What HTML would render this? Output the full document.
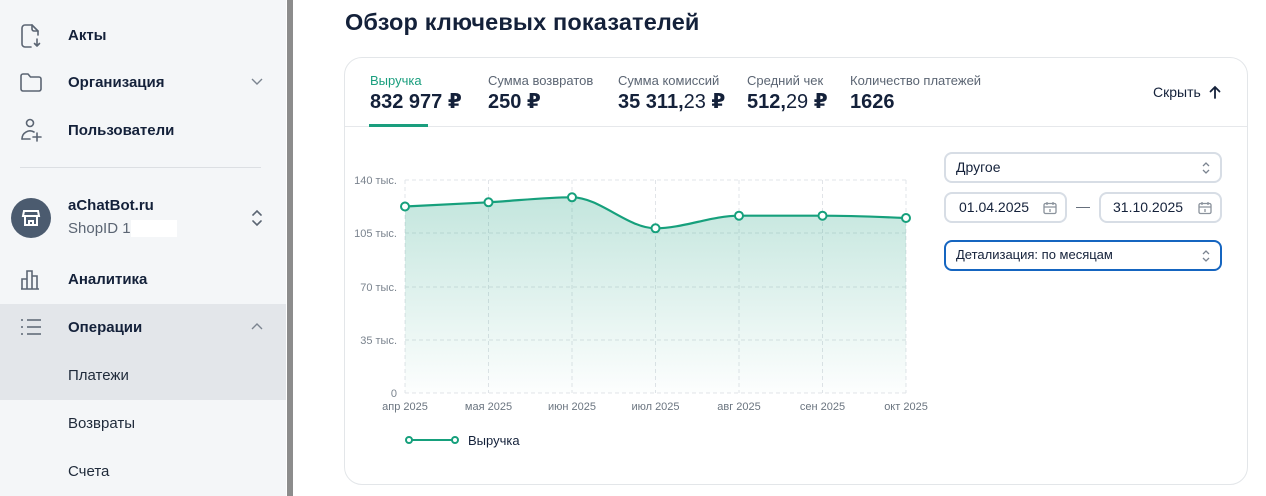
<!DOCTYPE html>
<html><head><meta charset="utf-8">
<style>
*{margin:0;padding:0;box-sizing:border-box}
html,body{width:1266px;height:496px;overflow:hidden;background:#fff;font-family:"Liberation Sans","DejaVu Sans",sans-serif;color:#14213a}
.abs{position:absolute;white-space:nowrap}
#side{position:absolute;left:0;top:0;width:286px;height:496px;background:#f4f6f8}
#hl{position:absolute;left:0;top:304px;width:286px;height:96px;background:#e3e6ea}
#sb{position:absolute;left:287px;top:0;width:6px;height:496px;background:#8c8c8c}
.mi{position:absolute;left:68px;font-size:15px;font-weight:bold;color:#14213a;line-height:18px}
.si{position:absolute;left:68px;font-size:15px;color:#1f2a3a;line-height:18px}
.ic{position:absolute}
#card{position:absolute;left:344px;top:57px;width:904px;height:428px;border:1px solid #e3e6e9;border-radius:18px;background:#fff}
.tl{position:absolute;font-size:13px;color:#5b6573;line-height:16px;white-space:nowrap}
.tv{position:absolute;font-size:20px;font-weight:bold;color:#14213a;line-height:22px;white-space:nowrap}
.tv .lt{font-weight:normal}
.box{position:absolute;border:2px solid #d7dde5;border-radius:8px;background:#fff;font-size:14px;color:#14213a;line-height:26px;padding-left:10px}
</style></head><body>
<div id="side"></div>
<div id="hl"></div>
<div id="sb"></div>

<!-- sidebar icons -->
<svg class="ic" style="left:18px;top:22px" width="26" height="28" viewBox="0 0 26 28" fill="none" stroke="#5b6573" stroke-width="1.6" stroke-linecap="round" stroke-linejoin="round">
<path d="M14 3H7a3 3 0 0 0-3 3v16a3 3 0 0 0 3 3h6"/><path d="M14 3l6 6v4"/><path d="M14 3v4a2 2 0 0 0 2 2h4"/><path d="M19 17v7M16.5 21.5L19 24l2.5-2.5"/>
</svg>
<svg class="ic" style="left:18px;top:70px" width="26" height="24" viewBox="0 0 26 24" fill="none" stroke="#5b6573" stroke-width="1.6" stroke-linejoin="round">
<path d="M3 6a2 2 0 0 1 2-2h5l2.5 3H21a2 2 0 0 1 2 2v10a2 2 0 0 1-2 2H5a2 2 0 0 1-2-2z"/>
</svg>
<svg class="ic" style="left:18px;top:116px" width="26" height="28" viewBox="0 0 26 28" fill="none" stroke="#5b6573" stroke-width="1.6" stroke-linecap="round">
<circle cx="12" cy="7" r="3.5"/><path d="M4 23a8 8 0 0 1 12-7"/><path d="M4 23h8"/><path d="M19 17v8M15 21h8"/>
</svg>
<div class="abs" style="left:20px;top:167px;width:241px;height:1px;background:#dcdfe3"></div>
<svg class="ic" style="left:11px;top:198px" width="40" height="40" viewBox="0 0 40 40">
<circle cx="20" cy="20" r="20" fill="#4b5b6f"/>
<g fill="none" stroke="#fff" stroke-width="2"><path d="M13 13h14l1 5H12z"/><path d="M12 18h16"/><path d="M14 18v9h12v-9"/><path d="M18 27v-4h4v4"/></g>
</svg>
<svg class="ic" style="left:249px;top:208px" width="16" height="20" viewBox="0 0 16 20" fill="none" stroke="#5b6573" stroke-width="1.6" stroke-linecap="round"><path d="M4 7l4-4 4 4M4 13l4 4 4-4"/></svg>
<svg class="ic" style="left:20px;top:268px" width="24" height="22" viewBox="0 0 24 22" fill="none" stroke="#5b6573" stroke-width="1.6"><path d="M2 21V11h5v10M7 21V3h5v18M12 21V8h5v13M1 21h18"/></svg>
<svg class="ic" style="left:20px;top:318px" width="22" height="18" viewBox="0 0 22 18" fill="none" stroke="#5b6573" stroke-width="1.6"><path d="M1 2h2M7 2h14M1 9h2M7 9h14M1 16h2M7 16h14"/></svg>
<svg class="ic" style="left:249px;top:76px" width="16" height="12" viewBox="0 0 16 12" fill="none" stroke="#7b8490" stroke-width="1.4"><path d="M3 3l5 5 5-5"/></svg>
<svg class="ic" style="left:249px;top:320px" width="16" height="12" viewBox="0 0 16 12" fill="none" stroke="#7b8490" stroke-width="1.4"><path d="M3 9l5-5 5 5"/></svg>

<div class="mi" style="top:27px">Акты</div>
<div class="mi" style="top:74px">Организация</div>
<div class="mi" style="top:122px">Пользователи</div>
<div class="mi" style="top:197px">aChatBot.ru</div>
<div class="si" style="top:220px;color:#5b6573">ShopID 1(</div>
<div class="abs" style="left:131px;top:220px;width:46px;height:17px;background:#fff"></div>
<div class="mi" style="top:271px">Аналитика</div>
<div class="mi" style="top:319px">Операции</div>
<div class="si" style="top:367px">Платежи</div>
<div class="si" style="top:415px">Возвраты</div>
<div class="si" style="top:463px">Счета</div>

<!-- main -->
<div class="abs" style="left:345px;top:7px;font-size:23.5px;letter-spacing:0.15px;font-weight:bold;color:#14213a;line-height:30px">Обзор ключевых показателей</div>
<div id="card"></div>
<div class="tl" style="left:370px;top:73px;color:#1a9e7e">Выручка</div>
<div class="tv" style="left:370px;top:91px">832 977 ₽</div>
<div class="tl" style="left:488px;top:73px">Сумма возвратов</div>
<div class="tv" style="left:488px;top:91px">250 ₽</div>
<div class="tl" style="left:618px;top:73px">Сумма комиссий</div>
<div class="tv" style="left:618px;top:91px">35 311,<span class="lt">23</span> ₽</div>
<div class="tl" style="left:747px;top:73px">Средний чек</div>
<div class="tv" style="left:747px;top:91px">512,<span class="lt">29</span> ₽</div>
<div class="tl" style="left:850px;top:73px">Количество платежей</div>
<div class="tv" style="left:850px;top:91px">1626</div>
<div class="abs" style="left:1153px;top:84px;font-size:14px;color:#14213a;line-height:17px">Скрыть</div>
<svg class="ic" style="left:1207px;top:84px" width="16" height="16" viewBox="0 0 16 16" fill="none" stroke="#14213a" stroke-width="1.8" stroke-linecap="round"><path d="M8 14V3M3.5 7.5L8 3l4.5 4.5"/></svg>
<div class="abs" style="left:345px;top:126px;width:902px;height:1px;background:#e6e8eb"></div>
<div class="abs" style="left:369px;top:124px;width:59px;height:3px;background:#1a9e7e"></div>

<!-- controls -->
<div class="box" style="left:944px;top:152px;width:278px;height:31px">Другое</div>
<div class="box" style="left:944px;top:192px;width:123px;height:31px;padding-left:13px">01.04.2025</div>
<div class="abs" style="left:1076px;top:198px;font-size:14px;color:#5b6573">—</div>
<div class="box" style="left:1099px;top:192px;width:123px;height:31px;padding-left:12px">31.10.2025</div>
<div class="box" style="left:944px;top:240px;width:278px;height:31px;border-color:#1565c0;font-size:13px">Детализация: по месяцам</div>
<svg class="ic" style="left:1200px;top:160px" width="12" height="16" viewBox="0 0 12 16" fill="none" stroke="#7b8490" stroke-width="1.3"><path d="M3 6l3-3 3 3M3 10l3 3 3-3"/></svg>
<svg class="ic" style="left:1200px;top:248px" width="12" height="16" viewBox="0 0 12 16" fill="none" stroke="#7b8490" stroke-width="1.3"><path d="M3 6l3-3 3 3M3 10l3 3 3-3"/></svg>
<svg class="ic" style="left:1042px;top:200px" width="16" height="16" viewBox="0 0 16 16" fill="none" stroke="#8a929c" stroke-width="1.3"><rect x="2" y="3.5" width="12" height="10" rx="1.5"/><path d="M2 7h12M5 2v3M11 2v3M8 9v3"/></svg>
<svg class="ic" style="left:1197px;top:200px" width="16" height="16" viewBox="0 0 16 16" fill="none" stroke="#8a929c" stroke-width="1.3"><rect x="2" y="3.5" width="12" height="10" rx="1.5"/><path d="M2 7h12M5 2v3M11 2v3M8 9v3"/></svg>

<!-- chart -->
<svg class="ic" style="left:0;top:0" width="1266" height="496" viewBox="0 0 1266 496">
<defs><linearGradient id="g" x1="0" y1="0" x2="0" y2="1"><stop offset="0" stop-color="#1a9e7e" stop-opacity="0.26"/><stop offset="1" stop-color="#1a9e7e" stop-opacity="0.01"/></linearGradient></defs>
<g stroke="#e1e4e8" stroke-width="1" stroke-dasharray="4 3" fill="none">
<path d="M405 180H906M405 233H906M405 287H906M405 340H906M405 393H906"/>
<path d="M405 180V393M488.5 180V393M572 180V393M655.5 180V393M739 180V393M822.5 180V393M906 180V393"/>
</g>
<path d="M405 206.5C432.83 205.17 460.67 203.83 488.5 202.3C516.33 200.77 544.17 197.3 572 197.3C599.83 197.3 627.67 228.3 655.5 228.3C683.33 228.3 711.17 215.7 739 215.7C766.83 215.7 794.67 215.7 822.5 215.7C850.33 215.7 878.17 216.85 906 218L906 393L405 393Z" fill="url(#g)"/>
<path d="M405 206.5C432.83 205.17 460.67 203.83 488.5 202.3C516.33 200.77 544.17 197.3 572 197.3C599.83 197.3 627.67 228.3 655.5 228.3C683.33 228.3 711.17 215.7 739 215.7C766.83 215.7 794.67 215.7 822.5 215.7C850.33 215.7 878.17 216.85 906 218" fill="none" stroke="#16a07c" stroke-width="2.2"/>
<g fill="#fff" stroke="#16a07c" stroke-width="2">
<circle cx="405" cy="206.5" r="4"/><circle cx="488.5" cy="202.3" r="4"/><circle cx="572" cy="197.3" r="4"/><circle cx="655.5" cy="228.3" r="4"/><circle cx="739" cy="215.7" r="4"/><circle cx="822.5" cy="215.7" r="4"/><circle cx="906" cy="218" r="4"/>
</g>
<g font-family="Liberation Sans, sans-serif" font-size="11" fill="#7a838e" text-anchor="end">
<text x="397" y="184">140 тыс.</text><text x="397" y="237">105 тыс.</text><text x="397" y="291">70 тыс.</text><text x="397" y="344">35 тыс.</text><text x="397" y="397">0</text>
</g>
<g font-family="Liberation Sans, sans-serif" font-size="11" fill="#6b7580" text-anchor="middle">
<text x="405" y="410">апр 2025</text><text x="488.5" y="410">мая 2025</text><text x="572" y="410">июн 2025</text><text x="655.5" y="410">июл 2025</text><text x="739" y="410">авг 2025</text><text x="822.5" y="410">сен 2025</text><text x="906" y="410">окт 2025</text>
</g>
<path d="M409 440H455" stroke="#16a07c" stroke-width="2"/>
<circle cx="409" cy="440" r="3" fill="#fff" stroke="#16a07c" stroke-width="2"/>
<circle cx="455" cy="440" r="3" fill="#fff" stroke="#16a07c" stroke-width="2"/>
<text x="468" y="445" font-family="Liberation Sans, sans-serif" font-size="13" fill="#14213a">Выручка</text>
</svg>
</body></html>
